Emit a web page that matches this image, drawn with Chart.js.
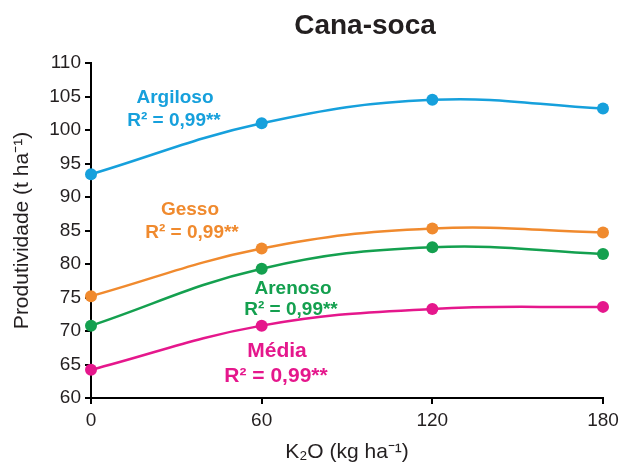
<!DOCTYPE html>
<html>
<head>
<meta charset="utf-8">
<script src="https://cdn.jsdelivr.net/npm/chart.js@4"></script>
<style>
  html, body { margin: 0; padding: 0; background: #fff; }
  #wrap { width: 625px; height: 466px; }
</style>
</head>
<body>
<div id="wrap"><canvas id="chart" width="625" height="466"></canvas></div>
<script>
const doses = [0, 60, 120, 180];
const argiloso = [93.4, 101.0, 104.5, 103.2];
const gesso = [75.2, 82.3, 85.3, 84.7];
const arenoso = [70.8, 79.3, 82.5, 81.5];
const media = [64.2, 70.8, 73.3, 73.6];
const yTicks = [60, 65, 70, 75, 80, 85, 90, 95, 100, 105, 110];

const FONT = "'Liberation Sans', Arial, sans-serif";
const INK = '#231f20';

function toPoints(values) {
    return values.map((v, i) => ({ x: doses[i], y: v }));
}

function series(label, values, color) {
    return {
        label: label,
        data: toPoints(values),
        borderColor: color,
        backgroundColor: color,
        pointBackgroundColor: color,
        pointBorderWidth: 0,
        pointRadius: 6,
        borderWidth: 2.5,
        tension: 0.4,
        clip: false
    };
}

// title and the R² notes next to each curve
const notes = [
    { lines: ['Argiloso', 'R² = 0,99**'], color: '#16a0dc', x: [175, 174], y: [103, 126], size: 19 },
    { lines: ['Gesso', 'R² = 0,99**'], color: '#f08a2e', x: [190, 192], y: [215, 238], size: 19 },
    { lines: ['Arenoso', 'R² = 0,99**'], color: '#14a04f', x: [293, 291], y: [294, 315], size: 19 },
    { lines: ['Média', 'R² = 0,99**'], color: '#e5178c', x: [277, 276], y: [357, 382], size: 21 }
];

const textPlugin = {
    id: 'textPlugin',
    afterDraw(chart) {
        const ctx = chart.ctx;
        ctx.save();
        ctx.textAlign = 'center';
        ctx.textBaseline = 'alphabetic';
        ctx.fillStyle = INK;
        ctx.font = 'bold 28px ' + FONT;
        ctx.fillText('Cana-soca', 365, 34);
        notes.forEach(n => {
            ctx.fillStyle = n.color;
            ctx.font = 'bold ' + n.size + 'px ' + FONT;
            n.lines.forEach((t, i) => ctx.fillText(t, n.x[i], n.y[i]));
        });
        ctx.restore();
    }
};

new Chart(document.getElementById('chart'), {
    type: 'line',
    data: {
        datasets: [
            series('Argiloso', argiloso, '#16a0dc'),
            series('Gesso', gesso, '#f08a2e'),
            series('Arenoso', arenoso, '#14a04f'),
            series('Média', media, '#e5178c')
        ]
    },
    options: {
        responsive: false,
        animation: false,
        layout: { padding: { top: 63, right: 22, left: 0, bottom: 0 } },
        plugins: {
            legend: { display: false },
            tooltip: { enabled: false }
        },
        scales: {
            x: {
                type: 'linear',
                min: 0,
                max: 180,
                afterFit(scale) { scale.height = 68; },
                afterBuildTicks(scale) { scale.ticks = doses.map(v => ({ value: v })); },
                ticks: { color: INK, font: { family: FONT, size: 19 }, padding: 5 },
                grid: { drawOnChartArea: false, drawTicks: true, tickLength: 6, color: '#000', lineWidth: 2 },
                border: { color: '#000', width: 2 },
                title: {
                    display: true,
                    text: 'K₂O (kg ha⁻¹)',
                    color: INK,
                    font: { family: FONT, size: 21 },
                    padding: { top: 0, bottom: 1 }
                }
            },
            y: {
                min: 60,
                max: 110,
                afterFit(scale) { scale.width = 91; },
                afterBuildTicks(scale) { scale.ticks = yTicks.map(v => ({ value: v })); },
                ticks: { color: INK, font: { family: FONT, size: 19 }, padding: 4 },
                grid: { drawOnChartArea: false, drawTicks: true, tickLength: 6, color: '#000', lineWidth: 2 },
                border: { color: '#000', width: 2 },
                title: {
                    display: true,
                    text: 'Produtividade (t ha⁻¹)',
                    color: INK,
                    font: { family: FONT, size: 21 },
                    padding: { top: 10, bottom: 0 }
                }
            }
        }
    },
    plugins: [textPlugin]
});
</script>
</body>
</html>
